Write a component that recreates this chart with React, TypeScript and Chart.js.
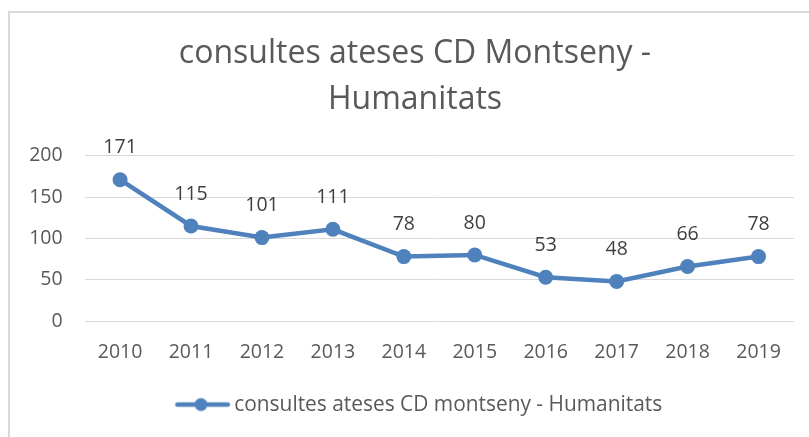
import React, { useEffect, useRef } from "react";
import { Chart, registerables } from "chart.js";

Chart.register(...registerables);

const years = ["2010", "2011", "2012", "2013", "2014", "2015", "2016", "2017", "2018", "2019"];
const consultes = [171, 115, 101, 111, 78, 80, 53, 48, 66, 78];
const yTickValues = [0, 50, 100, 150, 200];
const titleLines = ["consultes ateses CD Montseny -", "Humanitats"];
const seriesName = "consultes ateses CD montseny - Humanitats";

const FONT = "'Open Sans', sans-serif";
const BLUE = "#4F81BD";
const TEXT = "#595959";

function makeLegendMarker(): HTMLCanvasElement {
  const c = document.createElement("canvas");
  c.width = 70;
  c.height = 16;
  const g = c.getContext("2d")!;
  g.strokeStyle = BLUE;
  g.lineWidth = 4.5;
  g.lineCap = "round";
  g.beginPath();
  g.moveTo(16.5, 8);
  g.lineTo(67, 8);
  g.stroke();
  g.fillStyle = BLUE;
  g.beginPath();
  g.arc(40.2, 8, 6.5, 0, Math.PI * 2);
  g.fill();
  return c;
}

const frameAndLabels = {
  id: "frameAndLabels",
  beforeDraw(chart: any) {
    const ctx = chart.ctx;
    ctx.save();
    ctx.strokeStyle = "#d9d9d9";
    ctx.lineWidth = 2;
    ctx.strokeRect(9, 12, 900, 600);
    ctx.restore();
  },
  afterDatasetsDraw(chart: any) {
    const ctx = chart.ctx;
    const meta = chart.getDatasetMeta(0);
    const data = chart.data.datasets[0].data;
    ctx.save();
    ctx.font = `19.5px ${FONT}`;
    ctx.fillStyle = "#404040";
    ctx.textAlign = "center";
    ctx.textBaseline = "middle";
    meta.data.forEach((pt: any, i: number) => {
      ctx.fillText(String(data[i]), pt.x, pt.y - 32);
    });
    ctx.restore();
  },
};

export default function App() {
  const ref = useRef<HTMLCanvasElement | null>(null);
  useEffect(() => {
    document.body.style.margin = "0";
    const marker = makeLegendMarker();
    const chart = new Chart(ref.current!, {
      type: "line",
      data: {
        labels: years,
        datasets: [
          {
            label: seriesName,
            data: consultes,
            borderColor: BLUE,
            backgroundColor: BLUE,
            borderWidth: 4.5,
            pointRadius: 7.5,
            pointBorderWidth: 0,
            pointBackgroundColor: BLUE,
            tension: 0,
            clip: false as any,
          },
        ],
      },
      options: {
        responsive: false,
        animation: false,
        layout: { padding: { left: 21, right: 0, top: 0, bottom: 12 } },
        plugins: {
          title: {
            display: true,
            text: titleLines,
            color: TEXT,
            font: { family: FONT, size: 32, weight: "normal" as any, lineHeight: 1.4375 },
            padding: { top: 31.3, bottom: 32.4 },
          },
          legend: {
            display: true,
            position: "bottom",
            labels: {
              color: TEXT,
              font: { family: FONT, size: 20.9 },
              usePointStyle: true,
              pointStyleWidth: 56,
              boxHeight: 16,
              generateLabels: (chart: any) =>
                chart.data.datasets.map((ds: any, i: number) => ({
                  text: ds.label,
                  fillStyle: BLUE,
                  strokeStyle: BLUE,
                  lineWidth: 0,
                  pointStyle: marker,
                  datasetIndex: i,
                  fontColor: TEXT,
                })),
            },
          },
          tooltip: { enabled: false },
        },
        scales: {
          x: {
            offset: true,
            grid: { display: false, drawTicks: false },
            border: { display: false },
            ticks: { color: TEXT, font: { family: FONT, size: 19.5 }, padding: 20, maxRotation: 0 },
            afterFit: (s: any) => {
              s.height = 63;
            },
          },
          y: {
            min: 0,
            max: 200,
            afterBuildTicks: (s: any) => {
              s.ticks = yTickValues.map((v) => ({ value: v }));
            },
            grid: { color: "#d9d9d9", lineWidth: 1, drawTicks: false },
            border: { display: false },
            ticks: { color: TEXT, font: { family: FONT, size: 19.5 }, padding: 22 },
            afterFit: (s: any) => {
              s.width = 63.6;
            },
          },
          yRight: {
            position: "right",
            display: true,
            grid: { display: false, drawTicks: false },
            border: { display: false },
            ticks: { display: false },
            afterFit: (s: any) => {
              s.width = 15;
            },
          },
        },
      },
      plugins: [frameAndLabels],
    });
    return () => chart.destroy();
  }, []);
  return (
    <div style={{ position: "fixed", left: 0, top: 0, width: 809, height: 437, background: "#fff" }}>
      <canvas ref={ref} width={809} height={437} />
    </div>
  );
}
